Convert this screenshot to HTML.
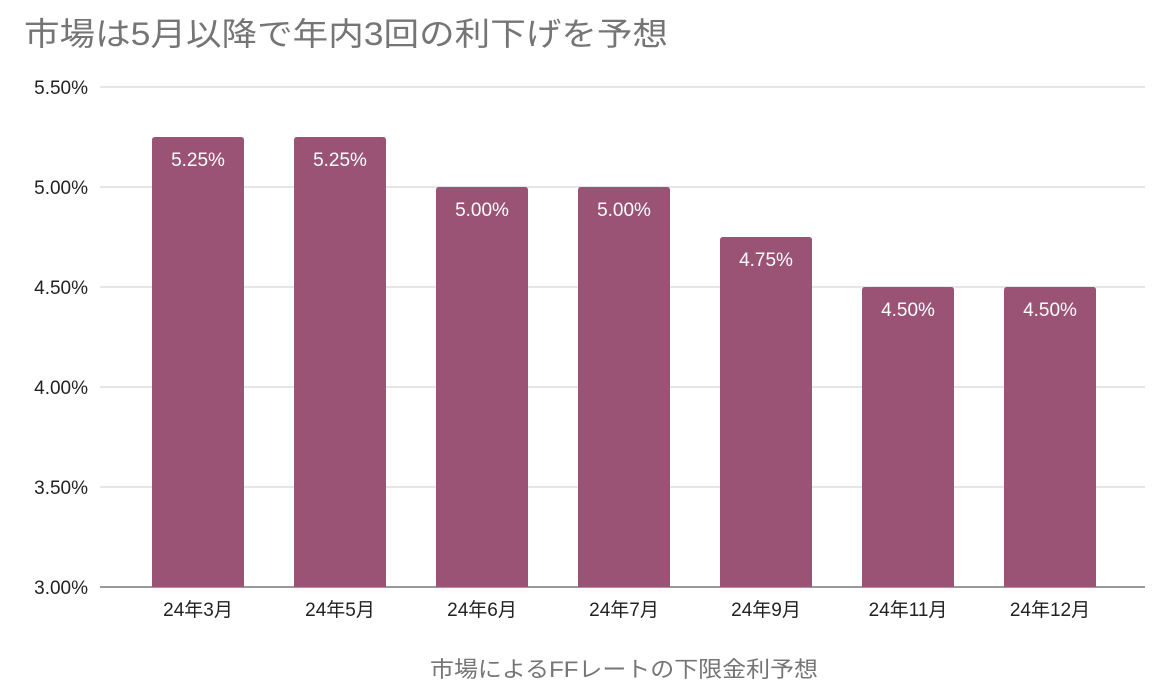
<!DOCTYPE html>
<html><head><meta charset="utf-8"><style>
body{margin:0;background:#fff;}
svg{display:block;font-family:"Liberation Sans","Noto Sans CJK JP",sans-serif;}
</style></head><body>
<svg id="chart" width="1172" height="700">
<text x="24" y="45" font-size="32" fill="#757575" textLength="644" lengthAdjust="spacingAndGlyphs">市場は5月以降で年内3回の利下げを予想</text>
<g id="grid"></g><g id="bars"></g><g id="xlabels"></g>
<text x="430" y="677" font-size="22" fill="#757575" textLength="388" lengthAdjust="spacingAndGlyphs">市場によるFFレートの下限金利予想</text>
</svg>
<script>
const categories=["24年3月","24年5月","24年6月","24年7月","24年9月","24年11月","24年12月"];
const values=[5.25,5.25,5.00,5.00,4.75,4.50,4.50];
const valueLabels=["5.25%","5.25%","5.00%","5.00%","4.75%","4.50%","4.50%"];
const ticks=[3.0,3.5,4.0,4.5,5.0,5.5];
const tickLabels=["3.00%","3.50%","4.00%","4.50%","5.00%","5.50%"];
const NS="http://www.w3.org/2000/svg";
const yMin=3.0,yMax=5.5,yTop=87,yBottom=587,xLeft=127,xRight=1121;
const ys=v=>yBottom-(v-yMin)/(yMax-yMin)*(yBottom-yTop);
const band=(xRight-xLeft)/categories.length;
const xc=i=>xLeft+band*(i+0.5);
const bw=92;
function mk(t,a,p){const e=document.createElementNS(NS,t);for(const k in a)e.setAttribute(k,a[k]);p.appendChild(e);return e;}
const grid=document.getElementById('grid');
ticks.forEach((t,i)=>{
 const l=mk('line',{x1:100,x2:1145,y1:ys(t),y2:ys(t),stroke:i===0?'#333':'#ccc','stroke-width':1},grid);
 
 
 const tx=mk('text',{x:88,y:ys(t)+7,'font-size':19,'text-anchor':'end',fill:'#222'},grid);
 tx.textContent=tickLabels[i];
 
 
});
const bars=document.getElementById('bars'),xl=document.getElementById('xlabels');
values.forEach((v,i)=>{
 const x=xc(i)-bw/2,yt=ys(v);
 const p=mk('path',{d:`M${x},${yBottom}V${yt+3}Q${x},${yt} ${x+3},${yt}H${x+bw-3}Q${x+bw},${yt} ${x+bw},${yt+3}V${yBottom}Z`,fill:'#9a5275'},bars);
 
 
 const t=mk('text',{x:xc(i),y:yt+29,'font-size':19,'text-anchor':'middle',fill:'#fff'},bars);
 t.textContent=valueLabels[i];
 
 
 const c=mk('text',{x:xc(i),y:616,'font-size':19,'text-anchor':'middle',fill:'#222'},xl);
 c.textContent=categories[i];
 
 
});
</script>
</body></html>
